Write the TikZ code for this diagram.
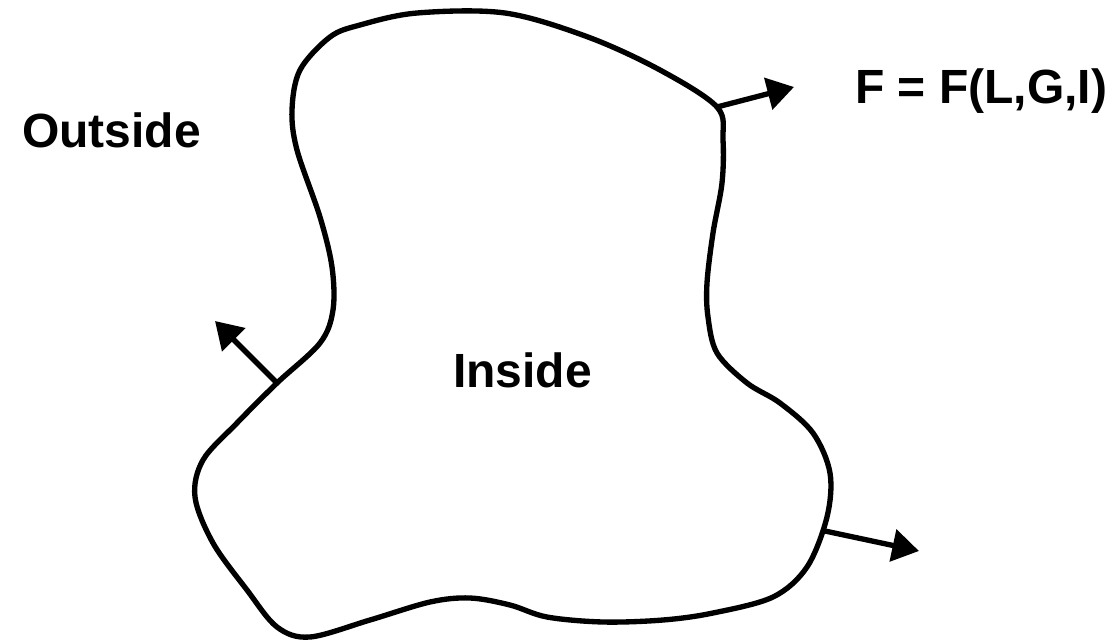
\documentclass[tikz,border=0pt]{standalone}
\usepackage{fontspec}
\setmainfont{Liberation Sans}
\usetikzlibrary{arrows.meta}

\tikzset{
  outline/.style={line width=4pt, line join=round},
  normal/.style={line width=4pt, -{Triangle[length=20pt, width=24pt]}},
  label/.style={anchor=base west, inner sep=0pt, font=\fontsize{36}{40}\selectfont\bfseries}
}

\begin{document}
\begin{tikzpicture}[x=0.75pt, y=-0.75pt]
				\useasboundingbox (0,0) rectangle (1115,640);
				
				% Boundary of the region
				\draw[outline] plot[smooth cycle, tension=0.55] coordinates {
					(417,13) (505,13) (588,37) (660,70) (717,107) (723,140) (722,183)
					(713,233) (707,283) (708,317) (717,353) (747,383) (780,403) (813,433)
					(830,473) (827,517) (807,567) (773,597) (713,613) (663,620) (603,622)
					(547,617) (510,605) (470,598) (430,602) (370,620) (310,637) (277,627)
					(247,590) (213,543) (195,497) (203,460) (237,423) (277,383) (320,343)
					(333,310) (332,267) (320,217) (297,150) (292,110) (300,70) (330,37) (360,25)};
				
				% Points on the boundary and arrow tips
				\coordinate (topbase) at (717,107);
				\coordinate (toptip) at (794,87);
				\coordinate (leftbase) at (277,383);
				\coordinate (lefttip) at (215,321);
				\coordinate (rightbase) at (825,531);
				\coordinate (righttip) at (919,551);
				
				% Outward normals
				\draw[normal] (topbase) -- (toptip);
				\draw[normal] (leftbase) -- (lefttip);
				\draw[normal] (rightbase) -- (righttip);
				
				% Labels
				\node[label] (outside) at (22,147) {Outside};
				\node[label] (inside) at (453,387) {Inside};
				\node[label] (flux) at (855,103) {F = F(L,G,I)};
\end{tikzpicture}
\end{document}
